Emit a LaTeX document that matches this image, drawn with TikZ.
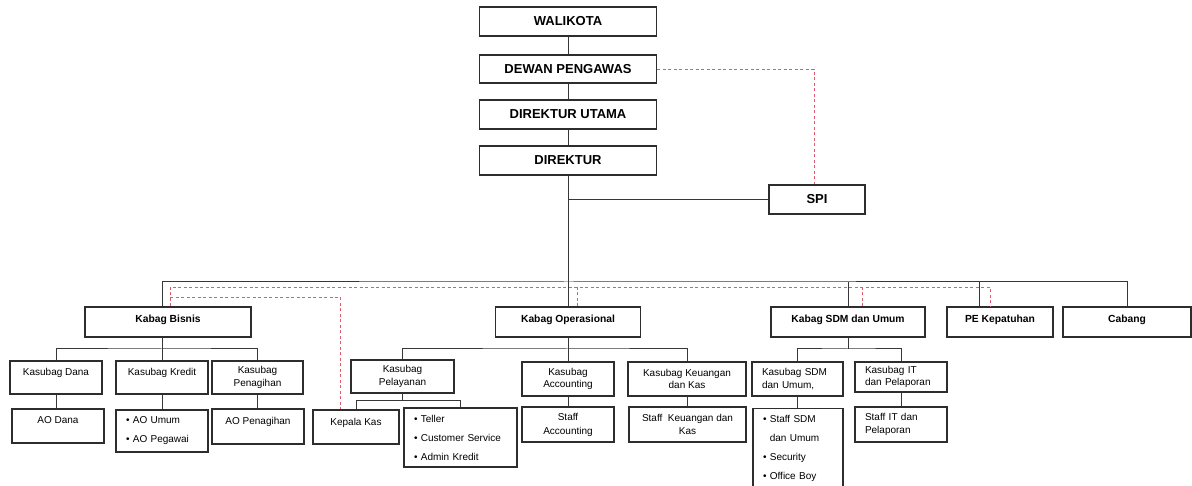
\documentclass[tikz,border=0pt]{standalone}
\usepackage{fontspec}
\setmainfont{Liberation Sans}
\usetikzlibrary{positioning}
\definecolor{boxline}{RGB}{45,45,45}
\definecolor{lineclr}{RGB}{55,55,55}
\definecolor{controlred}{RGB}{222,90,110}

\begin{document}
\begin{tikzpicture}[
    x=1pt, y=-1pt,
    head/.style={draw=boxline, line width=1.3pt, minimum width=177, minimum height=29, font=\fontsize{13}{15}\selectfont\bfseries},
    unit/.style={draw=boxline, line width=1.1pt, minimum height=30, text depth=6pt, font=\fontsize{10.3}{12.5}\selectfont\bfseries},
    sub/.style={draw=boxline, line width=1.1pt, inner sep=0pt, align=center, font=\fontsize{10}{12.5}\selectfont},
    lifted/.style={text depth=11pt},
    leftbox/.style={sub, align=left, inner xsep=10pt},
    listbox/.style={leftbox, font=\fontsize{10}{19}\selectfont},
    link/.style={draw=lineclr, line width=1pt},
    ctrl/.style={draw=controlred, line width=0.9pt, dash pattern=on 3pt off 2.5pt}
]
    \useasboundingbox (0,0) rectangle (1192,486);

    % Top
    \node[head] (walikota) at (568,21.5) {WALIKOTA};
    \node[head, minimum height=28] (dewan) at (568,69) {DEWAN PENGAWAS};
    \node[head] (dirut) at (568,114.5) {DIREKTUR UTAMA};
    \node[head] (direktur) at (568,160.5) {DIREKTUR};
    \node[head, minimum width=96] (spi) at (817,199.5) {SPI};

    % Kabag
    \node[unit, minimum width=166] (bisnis) at (168,322) {Kabag Bisnis};
    \node[unit, minimum width=145] (opr) at (568,322) {Kabag Operasional};
    \node[unit, minimum width=154] (sdm) at (848,322) {Kabag SDM dan Umum};
    \node[unit, minimum width=106] (pek) at (1000,322) {PE Kepatuhan};
    \node[unit, minimum width=128] (cabang) at (1127,322) {Cabang};

    % Kabag Bisnis
    \node[sub, lifted, minimum width=92, minimum height=33] (dana) at (56,377.5) {Kasubag Dana};
    \node[sub, lifted, minimum width=92, minimum height=33] (kredit) at (162,377.5) {Kasubag Kredit};
    \node[sub, minimum width=91, minimum height=33] (tagih) at (257.5,377.5) {Kasubag\\Penagihan};
    \node[sub, lifted, minimum width=92, minimum height=34] (aodana) at (58,426) {AO Dana};
    \node[listbox, text width=72, minimum height=42] (aoumum) at (162,431) {\textbullet\ AO Umum\\\textbullet\ AO Pegawai};
    \node[sub, lifted, minimum width=92, minimum height=35] (aotagih) at (258,426.5) {AO Penagihan};
    \node[sub, lifted, minimum width=86, minimum height=34] (kepkas) at (356,427) {Kepala Kas};

    % Kabag Operasional
    \node[sub, minimum width=103, minimum height=33] (layan) at (402.5,376.5) {Kasubag\\Pelayanan};
    \node[sub, minimum width=92, minimum height=34] (akun) at (568,379) {Kasubag\\Accounting};
    \node[sub, minimum width=118, minimum height=34] (keu) at (687,379) {Kasubag Keuangan\\dan Kas};
    \node[listbox, text width=93, minimum height=59] (teller) at (460.5,437.5) {\textbullet\ Teller\\\textbullet\ Customer Service\\\textbullet\ Admin Kredit};
    \node[sub, minimum width=92, minimum height=35, font=\fontsize{10}{14}\selectfont] (staffakun) at (568,424.5) {Staff\\Accounting};
    \node[sub, minimum width=117, minimum height=35] (staffkeu) at (687.5,424.5) {Staff~ Keuangan dan\\Kas};

    % Kabag SDM dan Umum
    \node[leftbox, text width=71, minimum height=34] (ksdm) at (797.5,379) {Kasubag SDM\\dan Umum,};
    \node[leftbox, text width=72, minimum height=30] (kit) at (901,377) {Kasubag IT\\dan Pelaporan};
    \node[listbox, text width=70, minimum height=80] (staffsdm) at (798,448.5) {\textbullet\ Staff SDM\\\phantom{\textbullet\ }dan Umum\\\textbullet\ Security\\\textbullet\ Office Boy};
    \node[leftbox, text width=72, minimum height=35] (staffit) at (901,424.5) {Staff IT dan\\Pelaporan};

    % Lines of command
    \coordinate (bus) at (568,282);
    \coordinate (bisin) at ([xshift=-6pt]bisnis.north);
    \coordinate (pekin) at ([xshift=-21pt]pek.north);
    \draw[link] (walikota) -- (dewan);
    \draw[link] (dewan) -- (dirut);
    \draw[link] (dirut) -- (direktur);
    \draw[link] (direktur) -- (opr);
    \draw[link] (spi) -- (spi -| direktur);
    \draw[link] (bisin) |- (bus) -| (cabang.north);
    \draw[link] (sdm.north) -- (sdm.north |- bus);
    \draw[link] (pekin) -- (pekin |- bus);

    \coordinate (bisbus) at (162,349);
    \draw[link] (bisbus |- bisnis.south) -- (bisbus);
    \draw[link] (dana.north) |- (bisbus) -| (tagih.north);
    \draw[link] (kredit.north) -- (kredit.north |- bisbus);
    \draw[link] (dana.south) -- (dana.south |- aodana.north);
    \draw[link] (kredit.south) -- (kredit.south |- aoumum.north);
    \draw[link] (tagih.south) -- (tagih.south |- aotagih.north);

    \coordinate (oprbus) at (568,349);
    \coordinate (layanbus) at ([yshift=-7pt]layan.south);
    \draw[link] (opr) -- (akun);
    \draw[link] (layan.north) |- (oprbus) -| (keu.north);
    \draw[link] (akun) -- (staffakun);
    \draw[link] (keu.south) -- (keu.south |- staffkeu.north);
    \draw[link] (layan.south) -- (layanbus);
    \draw[link] (kepkas.north) |- (layanbus) -| (teller.north);

    \coordinate (sdmbus) at (848,349);
    \draw[link] (sdm.south) -- (sdmbus);
    \draw[link] (ksdm.north) |- (sdmbus) -| (kit.north);
    \draw[link] (ksdm.south) -- (ksdm.south |- staffsdm.north);
    \draw[link] (kit.south) -- (kit.south |- staffit.north);

    % Lines of control (dashed)
    \coordinate (spid) at ([xshift=-3pt]spi.north);
    \coordinate (dtop) at (170,287);
    \coordinate (dlow) at (170,297);
    \coordinate (bisd) at ([xshift=2pt]bisnis.north);
    \coordinate (oprd) at ([xshift=9pt]opr.north);
    \coordinate (sdmd) at ([xshift=14pt]sdm.north);
    \coordinate (pekd) at ([xshift=-10pt]pek.north);
    \coordinate (kasd) at ([xshift=-16pt]kepkas.north);
    \draw[ctrl] (dewan) -| (spid);
    \draw[ctrl] (bisd) -- (bisd |- dtop) -| (pekd);
    \draw[ctrl] (dlow) -| (kasd);
    \draw[ctrl] (oprd) -- (oprd |- dtop);
    \draw[ctrl] (sdmd) -- (sdmd |- dtop);
\end{tikzpicture}
\end{document}
